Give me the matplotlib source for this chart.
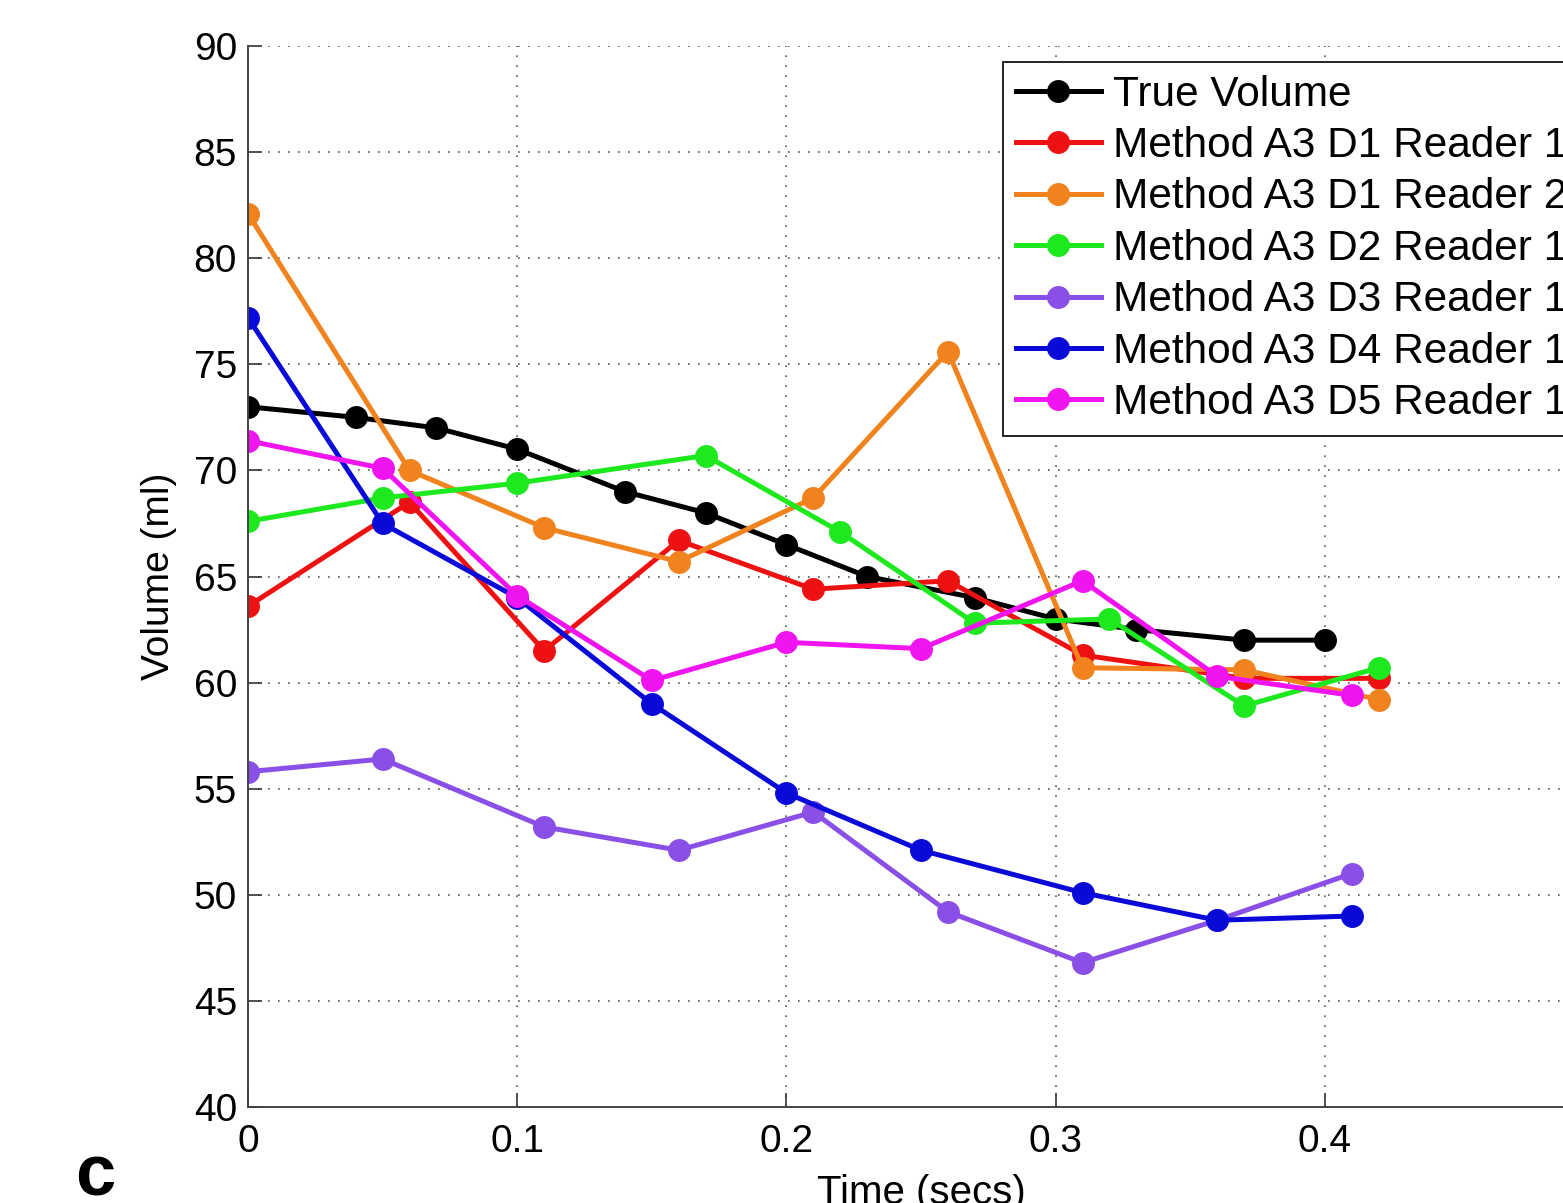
import matplotlib
matplotlib.use("Agg")
import matplotlib.pyplot as plt

plt.rcParams['font.family'] = ['Liberation Sans', 'DejaVu Sans']

# ---- data ----
t_true = [0, 0.04, 0.07, 0.10, 0.14, 0.17, 0.20, 0.23, 0.27, 0.30, 0.33, 0.37, 0.40]
v_true = [73.0, 72.5, 72.0, 71.0, 69.0, 68.0, 66.5, 65.0, 64.0, 63.0, 62.5, 62.0, 62.0]

t_d1 = [0, 0.06, 0.11, 0.16, 0.21, 0.26, 0.31, 0.37, 0.42]
v_d1r1 = [63.6, 68.5, 61.5, 66.7, 64.4, 64.8, 61.3, 60.2, 60.2]
v_d1r2 = [82.1, 70.0, 67.3, 65.7, 68.7, 75.6, 60.7, 60.6, 59.2]

t_d2 = [0, 0.05, 0.10, 0.17, 0.22, 0.27, 0.32, 0.37, 0.42]
v_d2 = [67.6, 68.7, 69.4, 70.7, 67.1, 62.8, 63.0, 58.9, 60.7]

t_d3 = [0, 0.05, 0.11, 0.16, 0.21, 0.26, 0.31, 0.36, 0.41]
v_d3 = [55.8, 56.4, 53.2, 52.1, 53.9, 49.2, 46.8, 48.8, 51.0]

t_d4 = [0, 0.05, 0.10, 0.15, 0.20, 0.25, 0.31, 0.36, 0.41]
v_d4 = [77.2, 67.5, 64.0, 59.0, 54.8, 52.1, 50.1, 48.8, 49.0]

t_d5 = [0, 0.05, 0.10, 0.15, 0.20, 0.25, 0.31, 0.36, 0.41]
v_d5 = [71.4, 70.1, 64.1, 60.1, 61.9, 61.6, 64.8, 60.3, 59.4]

labels = ["True Volume", "Method A3 D1 Reader 1", "Method A3 D1 Reader 2",
          "Method A3 D2 Reader 1", "Method A3 D3 Reader 1",
          "Method A3 D4 Reader 1", "Method A3 D5 Reader 1"]
colors = ["#000000", "#ee1111", "#f0831e", "#1ee81e", "#8a4fe6", "#0a0ad8", "#f014f0"]

xticks = [0, 0.1, 0.2, 0.3, 0.4, 0.5]
xticklabels = ["0", "0.1", "0.2", "0.3", "0.4", ""]
yticks = [40, 45, 50, 55, 60, 65, 70, 75, 80, 85, 90]

series = [(t_true, v_true), (t_d1, v_d1r1), (t_d1, v_d1r2), (t_d2, v_d2),
          (t_d3, v_d3), (t_d4, v_d4), (t_d5, v_d5)]

fig = plt.figure(figsize=(15.63, 12.03), dpi=100)
ax = fig.add_axes([248/1563, 1 - 1107/1203, (1594-248)/1563, (1107-46)/1203])

for (tx, vy), lab, col in zip(series, labels, colors):
    ax.plot(tx, vy, '-o', color=col, lw=3.6, markersize=15.5, label=lab)

ax.set_xlim(0, 0.5)
ax.set_ylim(40, 90)
ax.set_xticks(xticks)
ax.set_xticklabels(xticklabels)
ax.set_yticks(yticks)
ax.tick_params(direction='in', length=10, width=1.2, labelsize=28, colors='#333333',
               labelcolor='black')
ax.tick_params(axis='x', pad=12)
ax.tick_params(axis='y', pad=8)
ax.grid(True, linestyle=(0, (1, 5)), color='#555555', linewidth=1.2)
for s in ['top', 'right']:
    ax.spines[s].set_visible(False)
for s in ['left', 'bottom']:
    ax.spines[s].set_color('#444444')
    ax.spines[s].set_linewidth(1.4)

ax.set_xlabel("Time (secs)", fontsize=29, labelpad=10)
ax.set_ylabel("Volume (ml)", fontsize=28, labelpad=12)

leg = ax.legend(loc='upper left', bbox_to_anchor=(0.561, 0.985), fontsize=30.5,
                frameon=True, fancybox=False, edgecolor='black', framealpha=1,
                handlelength=2.0, handletextpad=0.3, borderpad=0.3,
                labelspacing=0.27, borderaxespad=0)
leg.get_frame().set_linewidth(1.2)

fig.text(95/1563, 1 - 1177/1203, "c", fontsize=52, fontweight='bold',
         ha='center', va='center')

fig.savefig("out.png", dpi=100)
